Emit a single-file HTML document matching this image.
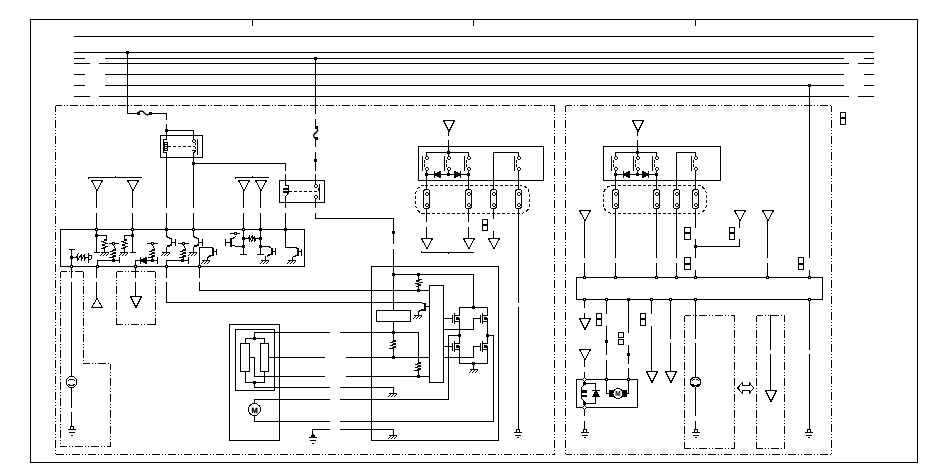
<!DOCTYPE html>
<html><head><meta charset="utf-8"><title>Wiring diagram</title>
<style>
html,body{margin:0;padding:0;background:#fff;}
svg{display:block;}
</style></head>
<body>
<svg width="950" height="475" viewBox="0 0 950 475" shape-rendering="crispEdges" fill="#000" style="will-change:transform">
<rect x="0" y="0" width="950" height="475" fill="#fff"/>
<rect x="30" y="19" width="888" height="1"/>
<rect x="30" y="462" width="888" height="1"/>
<rect x="30" y="19" width="1" height="444"/>
<rect x="917" y="19" width="1" height="444"/>
<rect x="252" y="19" width="1" height="7"/>
<rect x="473" y="19" width="1" height="7"/>
<rect x="695" y="19" width="1" height="7"/>
<rect x="74" y="36" width="800" height="1"/>
<rect x="74" y="52" width="800" height="1"/>
<rect x="74" y="58" width="11" height="1"/>
<rect x="105" y="58" width="739" height="1"/>
<rect x="864" y="58" width="10" height="1"/>
<rect x="74" y="74" width="11" height="1"/>
<rect x="105" y="74" width="739" height="1"/>
<rect x="864" y="74" width="10" height="1"/>
<rect x="74" y="85" width="11" height="1"/>
<rect x="105" y="85" width="739" height="1"/>
<rect x="864" y="85" width="10" height="1"/>
<rect x="74" y="63" width="16" height="1"/>
<rect x="99" y="63" width="750" height="1"/>
<rect x="858" y="63" width="16" height="1"/>
<rect x="74" y="96" width="16" height="1"/>
<rect x="99" y="96" width="750" height="1"/>
<rect x="858" y="96" width="16" height="1"/>
<path d="M55.5 105.5H555" stroke="#000" stroke-width="1" fill="none" stroke-dasharray="8 2 1 2 1 2" stroke-dashoffset="2"/>
<path d="M55.5 454.5H555" stroke="#000" stroke-width="1" fill="none" stroke-dasharray="8 2 1 2 1 2" stroke-dashoffset="0"/>
<path d="M55.5 105.5V455" stroke="#000" stroke-width="1" fill="none" stroke-dasharray="8 2 1 2 1 2" stroke-dashoffset="2"/>
<path d="M554.5 105.5V455" stroke="#000" stroke-width="1" fill="none" stroke-dasharray="8 2 1 2 1 2" stroke-dashoffset="2"/>
<path d="M565.5 105.5H832" stroke="#000" stroke-width="1" fill="none" stroke-dasharray="8 2 1 2 1 2" stroke-dashoffset="2"/>
<path d="M565.5 454.5H832" stroke="#000" stroke-width="1" fill="none" stroke-dasharray="8 2 1 2 1 2" stroke-dashoffset="2"/>
<path d="M565.5 105.5V455" stroke="#000" stroke-width="1" fill="none" stroke-dasharray="8 2 1 2 1 2" stroke-dashoffset="2"/>
<path d="M831.5 105.5V455" stroke="#000" stroke-width="1" fill="none" stroke-dasharray="8 2 1 2 1 2" stroke-dashoffset="2"/>
<path d="M60.5 271.5H84" stroke="#000" stroke-width="1" fill="none" stroke-dasharray="8 2 1 2 1 2" stroke-dashoffset="2"/>
<path d="M83.5 271.5V364" stroke="#000" stroke-width="1" fill="none" stroke-dasharray="8 2 1 2 1 2" stroke-dashoffset="2"/>
<path d="M83.5 363.5H111" stroke="#000" stroke-width="1" fill="none" stroke-dasharray="8 2 1 2 1 2" stroke-dashoffset="2"/>
<path d="M110.5 363.5V447" stroke="#000" stroke-width="1" fill="none" stroke-dasharray="8 2 1 2 1 2" stroke-dashoffset="2"/>
<path d="M60.5 446.5H111" stroke="#000" stroke-width="1" fill="none" stroke-dasharray="8 2 1 2 1 2" stroke-dashoffset="2"/>
<path d="M60.5 271.5V447" stroke="#000" stroke-width="1" fill="none" stroke-dasharray="8 2 1 2 1 2" stroke-dashoffset="2"/>
<path d="M116.5 271.5H156" stroke="#000" stroke-width="1" fill="none" stroke-dasharray="8 2 1 2 1 2" stroke-dashoffset="2"/>
<path d="M116.5 324.5H156" stroke="#000" stroke-width="1" fill="none" stroke-dasharray="8 2 1 2 1 2" stroke-dashoffset="2"/>
<path d="M116.5 271.5V325" stroke="#000" stroke-width="1" fill="none" stroke-dasharray="8 2 1 2 1 2" stroke-dashoffset="2"/>
<path d="M155.5 271.5V325" stroke="#000" stroke-width="1" fill="none" stroke-dasharray="8 2 1 2 1 2" stroke-dashoffset="2"/>
<path d="M684.5 315.5H735" stroke="#000" stroke-width="1" fill="none" stroke-dasharray="8 2 1 2 1 2" stroke-dashoffset="2"/>
<path d="M684.5 448.5H735" stroke="#000" stroke-width="1" fill="none" stroke-dasharray="8 2 1 2 1 2" stroke-dashoffset="2"/>
<path d="M684.5 315.5V449" stroke="#000" stroke-width="1" fill="none" stroke-dasharray="8 2 1 2 1 2" stroke-dashoffset="2"/>
<path d="M734.5 315.5V449" stroke="#000" stroke-width="1" fill="none" stroke-dasharray="8 2 1 2 1 2" stroke-dashoffset="2"/>
<path d="M756.5 315.5H785" stroke="#000" stroke-width="1" fill="none" stroke-dasharray="8 2 1 2 1 2" stroke-dashoffset="2"/>
<path d="M756.5 448.5H785" stroke="#000" stroke-width="1" fill="none" stroke-dasharray="8 2 1 2 1 2" stroke-dashoffset="2"/>
<path d="M756.5 315.5V449" stroke="#000" stroke-width="1" fill="none" stroke-dasharray="8 2 1 2 1 2" stroke-dashoffset="2"/>
<path d="M784.5 315.5V449" stroke="#000" stroke-width="1" fill="none" stroke-dasharray="8 2 1 2 1 2" stroke-dashoffset="2"/>
<rect x="126" y="51" width="3" height="3"/>
<rect x="127" y="52" width="1" height="62"/>
<rect x="127" y="113" width="12" height="1"/>
<rect x="150" y="113" width="17" height="1"/>
<path d="M138 113.5C139.5 110.2 143 110.2 144.5 113.2C146 115.2 148.5 115.2 150 113.5" stroke="#000" stroke-width="1.4" fill="none" shape-rendering="geometricPrecision"/>
<rect x="137" y="112" width="3" height="3"/>
<rect x="149" y="112" width="3" height="3"/>
<rect x="166" y="113" width="1" height="7"/>
<rect x="166" y="124" width="1" height="7"/>
<rect x="165" y="129" width="3" height="3"/>
<rect x="166" y="130" width="28" height="1"/>
<rect x="193" y="130" width="1" height="10"/>
<rect x="160" y="135" width="43" height="1"/>
<rect x="160" y="157" width="43" height="1"/>
<rect x="160" y="135" width="1" height="23"/>
<rect x="202" y="135" width="1" height="23"/>
<rect x="166" y="130" width="1" height="10"/>
<rect x="163" y="139" width="4" height="1"/>
<rect x="163" y="139" width="1" height="14"/>
<rect x="163" y="152" width="4" height="1"/>
<rect x="164" y="142" width="4" height="1"/>
<rect x="164" y="150" width="4" height="1"/>
<rect x="164" y="142" width="1" height="9"/>
<rect x="167" y="142" width="1" height="9"/>
<rect x="164" y="144" width="4" height="1"/>
<rect x="164" y="146" width="4" height="1"/>
<rect x="164" y="148" width="4" height="1"/>
<rect x="166" y="152" width="1" height="56"/>
<rect x="166" y="213" width="1" height="17"/>
<path d="M168 146.5H195" stroke="#000" stroke-width="1" fill="none" stroke-dasharray="3 2"/>
<rect x="197" y="139" width="1" height="16"/>
<rect x="195" y="143" width="1" height="2"/>
<rect x="195" y="147" width="1" height="2"/>
<rect x="192" y="150" width="4" height="1"/>
<line x1="193" y1="153.5" x2="195.5" y2="151" stroke="#000" stroke-width="1"/>
<rect x="193" y="153" width="1" height="55"/>
<rect x="193" y="213" width="1" height="17"/>
<rect x="192" y="162" width="3" height="3"/>
<rect x="193" y="163" width="93" height="1"/>
<rect x="285" y="163" width="1" height="8"/>
<rect x="285" y="174" width="1" height="12"/>
<rect x="314" y="57" width="3" height="3"/>
<rect x="315" y="58" width="1" height="56"/>
<rect x="315" y="119" width="1" height="9"/>
<path d="M316 127C318.5 128.5 318 132 315.5 133C313 134 313 137.5 316 139" stroke="#000" stroke-width="1.4" fill="none" shape-rendering="geometricPrecision"/>
<rect x="315" y="126" width="3" height="3"/>
<rect x="315" y="137" width="3" height="3"/>
<rect x="315" y="139" width="1" height="8"/>
<rect x="315" y="152" width="1" height="19"/>
<rect x="314" y="159" width="3" height="3"/>
<rect x="315" y="174" width="1" height="11"/>
<rect x="279" y="180" width="46" height="1"/>
<rect x="279" y="202" width="46" height="1"/>
<rect x="279" y="180" width="1" height="23"/>
<rect x="324" y="180" width="1" height="23"/>
<rect x="285" y="185" width="4" height="1"/>
<rect x="288" y="185" width="1" height="8"/>
<rect x="283" y="188" width="6" height="2"/>
<rect x="283" y="191" width="6" height="2"/>
<line x1="288.5" y1="193" x2="285.5" y2="197" stroke="#000" stroke-width="1"/>
<rect x="285" y="197" width="1" height="11"/>
<rect x="285" y="213" width="1" height="17"/>
<path d="M289 191.5H318" stroke="#000" stroke-width="1" fill="none" stroke-dasharray="3 2"/>
<rect x="318" y="188" width="1" height="3"/>
<rect x="319" y="184" width="1" height="16"/>
<rect x="315" y="199" width="1" height="9"/>
<rect x="315" y="213" width="1" height="6"/>
<rect x="315" y="218" width="79" height="1"/>
<rect x="393" y="218" width="1" height="26"/>
<rect x="392" y="231" width="3" height="3"/>
<rect x="393" y="249" width="1" height="62"/>
<path d="M91.5 180.5H102.5L97 190.5Z" stroke="#000" stroke-width="1" fill="none" />
<rect x="96" y="190" width="1" height="18"/>
<rect x="96" y="213" width="1" height="17"/>
<path d="M127.5 180.5H138.5L133 190.5Z" stroke="#000" stroke-width="1" fill="none" />
<rect x="132" y="190" width="1" height="18"/>
<rect x="132" y="213" width="1" height="17"/>
<path d="M238.5 180.5H249.5L244 190.5Z" stroke="#000" stroke-width="1" fill="none" />
<rect x="243" y="190" width="1" height="18"/>
<rect x="243" y="213" width="1" height="17"/>
<path d="M255.5 180.5H266.5L261 190.5Z" stroke="#000" stroke-width="1" fill="none" />
<rect x="260" y="190" width="1" height="18"/>
<rect x="260" y="213" width="1" height="17"/>
<rect x="88" y="177" width="54" height="1"/>
<rect x="115" y="176" width="1" height="2"/>
<rect x="88" y="177" width="1" height="2"/>
<rect x="235" y="177" width="34" height="1"/>
<rect x="252" y="176" width="1" height="2"/>
<rect x="235" y="177" width="1" height="2"/>
<rect x="60" y="229" width="245" height="1"/>
<rect x="60" y="266" width="245" height="1"/>
<rect x="60" y="229" width="1" height="38"/>
<rect x="304" y="229" width="1" height="38"/>
<rect x="71" y="249" width="1" height="29"/>
<rect x="69" y="249" width="6" height="1"/>
<rect x="70" y="256" width="3" height="3"/>
<rect x="71" y="257" width="6" height="1"/>
<path d="M76 257.5L78.0 254.5L77.7 260.5L81.3 254.5L81.0 260.5L84.7 254.5L84.3 260.5L86 257.5" stroke="#000" stroke-width="1" fill="none" />
<rect x="86" y="257" width="3" height="1"/>
<rect x="88" y="253" width="1" height="10"/>
<path d="M88.5 255.5H91.5V258.5L88.5 260.5" stroke="#000" stroke-width="1" fill="none" />
<rect x="96" y="229" width="1" height="24"/>
<rect x="95" y="234" width="3" height="3"/>
<rect x="94" y="252" width="6" height="1"/>
<rect x="96" y="235" width="11" height="1"/>
<rect x="106" y="235" width="1" height="5"/>
<path d="M104.5 239L107.0 240.0L102.0 241.7L107.0 243.3L102.0 245.0L107.0 246.7L102.0 248.3L104.5 249" stroke="#000" stroke-width="1" fill="none" />
<rect x="104" y="249" width="1" height="4"/>
<rect x="101" y="252" width="8" height="1"/>
<rect x="102" y="253" width="1" height="1"/>
<rect x="101" y="254" width="1" height="1"/>
<rect x="100" y="255" width="1" height="1"/>
<rect x="105" y="253" width="1" height="1"/>
<rect x="104" y="254" width="1" height="1"/>
<rect x="103" y="255" width="1" height="1"/>
<rect x="108" y="253" width="1" height="1"/>
<rect x="107" y="254" width="1" height="1"/>
<rect x="106" y="255" width="1" height="1"/>
<rect x="109" y="243" width="10" height="1"/>
<path d="M113.5 245C113.5 247 115.5 247 115.5 249" stroke="#000" stroke-width="1" fill="none" />
<path d="M113.5 249L116.0 249.9L111.0 251.4L116.0 252.9L111.0 254.4L116.0 255.9L111.0 257.4L113.5 258" stroke="#000" stroke-width="1" fill="none" />
<rect x="113" y="258" width="1" height="3"/>
<rect x="112" y="259" width="3" height="3"/>
<rect x="97" y="260" width="23" height="1"/>
<rect x="97" y="260" width="1" height="7"/>
<rect x="119" y="257" width="1" height="6"/>
<rect x="132" y="229" width="1" height="24"/>
<rect x="131" y="234" width="3" height="3"/>
<rect x="130" y="252" width="6" height="1"/>
<rect x="124" y="235" width="9" height="1"/>
<rect x="124" y="235" width="1" height="5"/>
<path d="M124.5 239L127.0 240.0L122.0 241.7L127.0 243.3L122.0 245.0L127.0 246.7L122.0 248.3L124.5 249" stroke="#000" stroke-width="1" fill="none" />
<rect x="124" y="249" width="1" height="4"/>
<rect x="120" y="252" width="8" height="1"/>
<rect x="121" y="253" width="1" height="1"/>
<rect x="120" y="254" width="1" height="1"/>
<rect x="119" y="255" width="1" height="1"/>
<rect x="124" y="253" width="1" height="1"/>
<rect x="123" y="254" width="1" height="1"/>
<rect x="122" y="255" width="1" height="1"/>
<rect x="127" y="253" width="1" height="1"/>
<rect x="126" y="254" width="1" height="1"/>
<rect x="125" y="255" width="1" height="1"/>
<rect x="135" y="260" width="1" height="18"/>
<rect x="135" y="260" width="23" height="1"/>
<rect x="140" y="257" width="1" height="7"/>
<rect x="141" y="259" width="1" height="3"/>
<rect x="142" y="259" width="1" height="3"/>
<rect x="143" y="258" width="1" height="5"/>
<rect x="144" y="258" width="1" height="5"/>
<rect x="145" y="257" width="1" height="7"/>
<rect x="146" y="257" width="1" height="7"/>
<rect x="151" y="259" width="3" height="3"/>
<rect x="157" y="257" width="1" height="7"/>
<rect x="147" y="243" width="11" height="1"/>
<path d="M152.5 245C152.5 247 154.5 247 154.5 249" stroke="#000" stroke-width="1" fill="none" />
<path d="M152.5 249L155.0 249.9L150.0 251.4L155.0 252.9L150.0 254.4L155.0 255.9L150.0 257.4L152.5 258" stroke="#000" stroke-width="1" fill="none" />
<rect x="152" y="258" width="1" height="3"/>
<rect x="166" y="229" width="1" height="8"/>
<line x1="166.5" y1="236.5" x2="171.5" y2="239" stroke="#000" stroke-width="1"/>
<rect x="171" y="239" width="1" height="7"/>
<rect x="171" y="239" width="1" height="7"/>
<rect x="171" y="242" width="5" height="1"/>
<rect x="175" y="239" width="1" height="7"/>
<line x1="171.5" y1="245" x2="167" y2="246.5" stroke="#000" stroke-width="1.6"/>
<rect x="166" y="247" width="1" height="6"/>
<rect x="162" y="252" width="8" height="1"/>
<rect x="163" y="253" width="1" height="1"/>
<rect x="162" y="254" width="1" height="1"/>
<rect x="161" y="255" width="1" height="1"/>
<rect x="166" y="253" width="1" height="1"/>
<rect x="165" y="254" width="1" height="1"/>
<rect x="164" y="255" width="1" height="1"/>
<rect x="169" y="253" width="1" height="1"/>
<rect x="168" y="254" width="1" height="1"/>
<rect x="167" y="255" width="1" height="1"/>
<rect x="165" y="228" width="3" height="3"/>
<rect x="193" y="229" width="1" height="8"/>
<line x1="193.5" y1="236.5" x2="198.5" y2="239" stroke="#000" stroke-width="1"/>
<rect x="198" y="239" width="1" height="7"/>
<rect x="198" y="239" width="1" height="7"/>
<rect x="198" y="242" width="5" height="1"/>
<rect x="202" y="239" width="1" height="7"/>
<line x1="198.5" y1="245" x2="194" y2="246.5" stroke="#000" stroke-width="1.6"/>
<rect x="193" y="247" width="1" height="6"/>
<rect x="189" y="252" width="8" height="1"/>
<rect x="190" y="253" width="1" height="1"/>
<rect x="189" y="254" width="1" height="1"/>
<rect x="188" y="255" width="1" height="1"/>
<rect x="193" y="253" width="1" height="1"/>
<rect x="192" y="254" width="1" height="1"/>
<rect x="191" y="255" width="1" height="1"/>
<rect x="196" y="253" width="1" height="1"/>
<rect x="195" y="254" width="1" height="1"/>
<rect x="194" y="255" width="1" height="1"/>
<rect x="178" y="243" width="11" height="1"/>
<path d="M183.5 245C183.5 247 185.5 247 185.5 249" stroke="#000" stroke-width="1" fill="none" />
<path d="M183.5 249L186.0 249.9L181.0 251.4L186.0 252.9L181.0 254.4L186.0 255.9L181.0 257.4L183.5 258" stroke="#000" stroke-width="1" fill="none" />
<rect x="183" y="258" width="1" height="3"/>
<rect x="181" y="259" width="3" height="3"/>
<rect x="166" y="260" width="23" height="1"/>
<rect x="166" y="260" width="1" height="18"/>
<rect x="188" y="257" width="1" height="7"/>
<rect x="199" y="247" width="1" height="31"/>
<rect x="199" y="247" width="14" height="1"/>
<rect x="212" y="247" width="1" height="9"/>
<rect x="213" y="248" width="1" height="8"/>
<rect x="212" y="251" width="5" height="1"/>
<rect x="216" y="249" width="1" height="6"/>
<line x1="212.5" y1="255" x2="208" y2="257" stroke="#000" stroke-width="1.6"/>
<rect x="207" y="257" width="1" height="4"/>
<rect x="202" y="260" width="8" height="1"/>
<rect x="203" y="261" width="1" height="1"/>
<rect x="202" y="262" width="1" height="1"/>
<rect x="201" y="263" width="1" height="1"/>
<rect x="206" y="261" width="1" height="1"/>
<rect x="205" y="262" width="1" height="1"/>
<rect x="204" y="263" width="1" height="1"/>
<rect x="209" y="261" width="1" height="1"/>
<rect x="208" y="262" width="1" height="1"/>
<rect x="207" y="263" width="1" height="1"/>
<rect x="225" y="239" width="1" height="7"/>
<rect x="225" y="242" width="6" height="1"/>
<rect x="230" y="238" width="1" height="9"/>
<rect x="231" y="238" width="1" height="9"/>
<line x1="231" y1="240" x2="236" y2="236" stroke="#000" stroke-width="1"/>
<rect x="230" y="233" width="10" height="1"/>
<line x1="231" y1="244.5" x2="236" y2="246.5" stroke="#000" stroke-width="1"/>
<rect x="236" y="246" width="8" height="1"/>
<rect x="243" y="229" width="1" height="26"/>
<rect x="242" y="237" width="3" height="3"/>
<rect x="242" y="245" width="3" height="3"/>
<rect x="240" y="254" width="7" height="1"/>
<rect x="260" y="229" width="1" height="26"/>
<rect x="259" y="228" width="3" height="3"/>
<rect x="259" y="237" width="3" height="3"/>
<rect x="259" y="245" width="3" height="3"/>
<rect x="257" y="254" width="7" height="1"/>
<rect x="243" y="238" width="6" height="1"/>
<path d="M248 238.5L249.8 235.5L249.1 241.5L252.5 235.5L251.8 241.5L255.1 235.5L254.5 241.5L256 238.5" stroke="#000" stroke-width="1" fill="none" />
<rect x="256" y="238" width="5" height="1"/>
<rect x="260" y="246" width="9" height="1"/>
<line x1="268.5" y1="246.5" x2="272" y2="248.5" stroke="#000" stroke-width="1"/>
<rect x="271" y="248" width="1" height="7"/>
<rect x="272" y="248" width="1" height="7"/>
<rect x="272" y="251" width="4" height="1"/>
<rect x="275" y="248" width="1" height="7"/>
<line x1="271.5" y1="254" x2="267" y2="256" stroke="#000" stroke-width="1.6"/>
<rect x="265" y="256" width="1" height="5"/>
<rect x="261" y="260" width="8" height="1"/>
<rect x="262" y="261" width="1" height="1"/>
<rect x="261" y="262" width="1" height="1"/>
<rect x="260" y="263" width="1" height="1"/>
<rect x="265" y="261" width="1" height="1"/>
<rect x="264" y="262" width="1" height="1"/>
<rect x="263" y="263" width="1" height="1"/>
<rect x="268" y="261" width="1" height="1"/>
<rect x="267" y="262" width="1" height="1"/>
<rect x="266" y="263" width="1" height="1"/>
<rect x="284" y="228" width="3" height="3"/>
<rect x="285" y="229" width="1" height="19"/>
<rect x="285" y="247" width="11" height="1"/>
<line x1="295.5" y1="247.5" x2="298.5" y2="249" stroke="#000" stroke-width="1"/>
<rect x="298" y="248" width="1" height="8"/>
<rect x="297" y="249" width="1" height="7"/>
<rect x="298" y="251" width="4" height="1"/>
<rect x="301" y="249" width="1" height="7"/>
<line x1="297.5" y1="255" x2="293.5" y2="257" stroke="#000" stroke-width="1.6"/>
<rect x="292" y="257" width="1" height="4"/>
<rect x="288" y="260" width="8" height="1"/>
<rect x="289" y="261" width="1" height="1"/>
<rect x="288" y="262" width="1" height="1"/>
<rect x="287" y="263" width="1" height="1"/>
<rect x="292" y="261" width="1" height="1"/>
<rect x="291" y="262" width="1" height="1"/>
<rect x="290" y="263" width="1" height="1"/>
<rect x="295" y="261" width="1" height="1"/>
<rect x="294" y="262" width="1" height="1"/>
<rect x="293" y="263" width="1" height="1"/>
<rect x="71" y="282" width="1" height="95"/>
<circle cx="71.5" cy="382" r="5.5" fill="#fff" stroke="#000"/>
<path d="M68 380.5C70 378.5 73 378.5 75 380.5M68 384C70 386 73 386 75 384" stroke="#000" stroke-width="1" fill="none" />
<rect x="71" y="388" width="1" height="20"/>
<rect x="71" y="412" width="1" height="15"/>
<rect x="70" y="426" width="4" height="1"/>
<rect x="70" y="429" width="4" height="1"/>
<rect x="70" y="426" width="1" height="4"/>
<rect x="73" y="426" width="1" height="4"/>
<rect x="68" y="429" width="8" height="1"/>
<rect x="69" y="432" width="6" height="1"/>
<rect x="71" y="435" width="2" height="1"/>
<rect x="96" y="266" width="1" height="12"/>
<rect x="96" y="282" width="1" height="17"/>
<path d="M97 298.5L102.5 307.5H91.5Z" stroke="#000" stroke-width="1" fill="none" />
<rect x="135" y="282" width="1" height="15"/>
<path d="M130.5 296.5H141.5L136 307.5Z" stroke="#000" stroke-width="1" fill="none" />
<rect x="166" y="282" width="1" height="21"/>
<rect x="166" y="302" width="256" height="1"/>
<rect x="199" y="282" width="1" height="9"/>
<rect x="199" y="290" width="231" height="1"/>
<rect x="229" y="324" width="51" height="1"/>
<rect x="229" y="440" width="51" height="1"/>
<rect x="229" y="324" width="1" height="117"/>
<rect x="279" y="324" width="1" height="117"/>
<rect x="235" y="329" width="40" height="1"/>
<rect x="235" y="390" width="40" height="1"/>
<rect x="235" y="329" width="1" height="62"/>
<rect x="274" y="329" width="1" height="62"/>
<rect x="254" y="332" width="76" height="1"/>
<rect x="340" y="332" width="79" height="1"/>
<rect x="254" y="332" width="1" height="7"/>
<rect x="253" y="337" width="3" height="3"/>
<rect x="245" y="338" width="20" height="1"/>
<rect x="245" y="338" width="1" height="6"/>
<rect x="264" y="338" width="1" height="6"/>
<rect x="240" y="343" width="10" height="1"/>
<rect x="240" y="371" width="10" height="1"/>
<rect x="240" y="343" width="1" height="29"/>
<rect x="249" y="343" width="1" height="29"/>
<rect x="260" y="343" width="9" height="1"/>
<rect x="260" y="371" width="9" height="1"/>
<rect x="260" y="343" width="1" height="29"/>
<rect x="268" y="343" width="1" height="29"/>
<rect x="249" y="357" width="6" height="1"/>
<rect x="254" y="357" width="1" height="20"/>
<rect x="254" y="376" width="71" height="1"/>
<rect x="346" y="376" width="84" height="1"/>
<rect x="268" y="357" width="57" height="1"/>
<rect x="346" y="357" width="84" height="1"/>
<rect x="245" y="371" width="1" height="12"/>
<rect x="264" y="371" width="1" height="12"/>
<rect x="245" y="382" width="20" height="1"/>
<rect x="253" y="381" width="3" height="3"/>
<rect x="254" y="382" width="1" height="6"/>
<rect x="254" y="387" width="76" height="1"/>
<rect x="340" y="387" width="54" height="1"/>
<rect x="393" y="387" width="1" height="7"/>
<rect x="389" y="393" width="8" height="1"/>
<rect x="390" y="394" width="1" height="1"/>
<rect x="389" y="395" width="1" height="1"/>
<rect x="388" y="396" width="1" height="1"/>
<rect x="393" y="394" width="1" height="1"/>
<rect x="392" y="395" width="1" height="1"/>
<rect x="391" y="396" width="1" height="1"/>
<rect x="396" y="394" width="1" height="1"/>
<rect x="395" y="395" width="1" height="1"/>
<rect x="394" y="396" width="1" height="1"/>
<rect x="254" y="399" width="76" height="1"/>
<rect x="340" y="399" width="109" height="1"/>
<circle cx="254.5" cy="409.5" r="6" fill="#fff" stroke="#000"/>
<text x="254.5" y="412.6" font-family="Liberation Sans, sans-serif" font-size="7.5" font-weight="bold" text-anchor="middle" fill="#000" stroke="#000" stroke-width="0.3">M</text>
<rect x="254" y="399" width="1" height="5"/>
<rect x="254" y="416" width="1" height="6"/>
<rect x="254" y="421" width="76" height="1"/>
<rect x="340" y="421" width="154" height="1"/>
<rect x="312" y="429" width="18" height="1"/>
<rect x="340" y="429" width="54" height="1"/>
<rect x="393" y="429" width="1" height="7"/>
<rect x="389" y="435" width="8" height="1"/>
<rect x="390" y="436" width="1" height="1"/>
<rect x="389" y="437" width="1" height="1"/>
<rect x="388" y="438" width="1" height="1"/>
<rect x="393" y="436" width="1" height="1"/>
<rect x="392" y="437" width="1" height="1"/>
<rect x="391" y="438" width="1" height="1"/>
<rect x="396" y="436" width="1" height="1"/>
<rect x="395" y="437" width="1" height="1"/>
<rect x="394" y="438" width="1" height="1"/>
<rect x="312" y="429" width="1" height="9"/>
<rect x="312" y="434" width="2" height="1"/>
<rect x="311" y="435" width="4" height="2"/>
<rect x="309" y="437" width="8" height="1"/>
<rect x="310" y="440" width="6" height="1"/>
<rect x="312" y="443" width="2" height="1"/>
<rect x="371" y="266" width="128" height="1"/>
<rect x="371" y="440" width="128" height="1"/>
<rect x="371" y="266" width="1" height="175"/>
<rect x="498" y="266" width="1" height="175"/>
<rect x="392" y="273" width="3" height="3"/>
<rect x="393" y="274" width="81" height="1"/>
<rect x="473" y="274" width="1" height="34"/>
<rect x="472" y="306" width="3" height="3"/>
<rect x="417" y="273" width="3" height="3"/>
<rect x="418" y="274" width="1" height="6"/>
<path d="M418.5 279L421.0 279.8L416.0 281.1L421.0 282.5L416.0 283.8L421.0 285.1L416.0 286.5L418.5 287" stroke="#000" stroke-width="1" fill="none" />
<rect x="418" y="287" width="1" height="4"/>
<rect x="417" y="289" width="3" height="3"/>
<rect x="376" y="310" width="35" height="1"/>
<rect x="376" y="321" width="35" height="1"/>
<rect x="376" y="310" width="1" height="12"/>
<rect x="410" y="310" width="1" height="12"/>
<rect x="393" y="321" width="1" height="20"/>
<path d="M393.5 340L396.0 340.9L391.0 342.4L396.0 343.9L391.0 345.4L396.0 346.9L391.0 348.4L393.5 349" stroke="#000" stroke-width="1" fill="none" />
<rect x="393" y="349" width="1" height="9"/>
<rect x="392" y="331" width="3" height="3"/>
<rect x="392" y="356" width="3" height="3"/>
<rect x="418" y="332" width="1" height="31"/>
<path d="M418.5 362L421.0 362.9L416.0 364.4L421.0 365.9L416.0 367.4L421.0 368.9L416.0 370.4L418.5 371" stroke="#000" stroke-width="1" fill="none" />
<rect x="418" y="371" width="1" height="6"/>
<rect x="417" y="375" width="3" height="3"/>
<rect x="429" y="285" width="15" height="1"/>
<rect x="429" y="382" width="15" height="1"/>
<rect x="429" y="285" width="1" height="98"/>
<rect x="443" y="285" width="1" height="98"/>
<line x1="421.5" y1="302.5" x2="424" y2="304" stroke="#000" stroke-width="1"/>
<rect x="424" y="303" width="1" height="8"/>
<rect x="425" y="303" width="1" height="8"/>
<rect x="425" y="306" width="5" height="1"/>
<line x1="424.5" y1="309.5" x2="419" y2="311" stroke="#000" stroke-width="1.6"/>
<rect x="418" y="311" width="1" height="5"/>
<rect x="414" y="315" width="8" height="1"/>
<rect x="415" y="316" width="1" height="1"/>
<rect x="414" y="317" width="1" height="1"/>
<rect x="413" y="318" width="1" height="1"/>
<rect x="418" y="316" width="1" height="1"/>
<rect x="417" y="317" width="1" height="1"/>
<rect x="416" y="318" width="1" height="1"/>
<rect x="421" y="316" width="1" height="1"/>
<rect x="420" y="317" width="1" height="1"/>
<rect x="419" y="318" width="1" height="1"/>
<rect x="459" y="307" width="29" height="1"/>
<rect x="459" y="307" width="1" height="9"/>
<rect x="454" y="315" width="6" height="1"/>
<rect x="454" y="313" width="1" height="11"/>
<rect x="452" y="315" width="1" height="8"/>
<rect x="443" y="318" width="10" height="1"/>
<rect x="456" y="317" width="3" height="3"/>
<rect x="454" y="321" width="6" height="1"/>
<rect x="459" y="318" width="1" height="18"/>
<rect x="487" y="307" width="1" height="9"/>
<rect x="482" y="315" width="6" height="1"/>
<rect x="482" y="313" width="1" height="11"/>
<rect x="480" y="315" width="1" height="8"/>
<rect x="473" y="318" width="8" height="1"/>
<rect x="484" y="317" width="3" height="3"/>
<rect x="482" y="321" width="6" height="1"/>
<rect x="487" y="318" width="1" height="18"/>
<rect x="473" y="318" width="1" height="12"/>
<rect x="443" y="329" width="31" height="1"/>
<rect x="458" y="334" width="3" height="3"/>
<rect x="486" y="334" width="3" height="3"/>
<rect x="448" y="335" width="12" height="1"/>
<rect x="448" y="335" width="1" height="65"/>
<rect x="487" y="335" width="7" height="1"/>
<rect x="493" y="335" width="1" height="87"/>
<rect x="459" y="335" width="1" height="9"/>
<rect x="454" y="343" width="6" height="1"/>
<rect x="454" y="341" width="1" height="11"/>
<rect x="452" y="343" width="1" height="8"/>
<rect x="443" y="346" width="10" height="1"/>
<rect x="456" y="345" width="3" height="3"/>
<rect x="454" y="349" width="6" height="1"/>
<rect x="459" y="346" width="1" height="18"/>
<rect x="487" y="335" width="1" height="9"/>
<rect x="482" y="343" width="6" height="1"/>
<rect x="482" y="341" width="1" height="11"/>
<rect x="480" y="343" width="1" height="8"/>
<rect x="473" y="346" width="8" height="1"/>
<rect x="484" y="345" width="3" height="3"/>
<rect x="482" y="349" width="6" height="1"/>
<rect x="487" y="346" width="1" height="18"/>
<rect x="473" y="346" width="1" height="12"/>
<rect x="443" y="357" width="31" height="1"/>
<rect x="459" y="363" width="29" height="1"/>
<rect x="472" y="362" width="3" height="3"/>
<rect x="473" y="363" width="1" height="7"/>
<rect x="470" y="369" width="8" height="1"/>
<rect x="471" y="370" width="1" height="1"/>
<rect x="470" y="371" width="1" height="1"/>
<rect x="469" y="372" width="1" height="1"/>
<rect x="474" y="370" width="1" height="1"/>
<rect x="473" y="371" width="1" height="1"/>
<rect x="472" y="372" width="1" height="1"/>
<rect x="477" y="370" width="1" height="1"/>
<rect x="476" y="371" width="1" height="1"/>
<rect x="475" y="372" width="1" height="1"/>
<rect x="518" y="213" width="1" height="90"/>
<rect x="518" y="307" width="1" height="123"/>
<rect x="516" y="429" width="4" height="1"/>
<rect x="516" y="432" width="4" height="1"/>
<rect x="516" y="429" width="1" height="4"/>
<rect x="519" y="429" width="1" height="4"/>
<rect x="514" y="432" width="8" height="1"/>
<rect x="515" y="435" width="6" height="1"/>
<rect x="517" y="437" width="2" height="1"/>
<path d="M443.5 120.5H454.5L449 131.5Z" stroke="#000" stroke-width="1" fill="none" />
<rect x="448" y="131" width="1" height="5"/>
<rect x="448" y="140" width="1" height="13"/>
<rect x="418" y="146" width="126" height="1"/>
<rect x="418" y="180" width="126" height="1"/>
<rect x="418" y="146" width="1" height="35"/>
<rect x="543" y="146" width="1" height="35"/>
<rect x="426" y="152" width="43" height="1"/>
<rect x="447" y="151" width="3" height="3"/>
<rect x="426" y="152" width="1" height="5"/>
<rect x="422" y="156" width="1" height="15"/>
<rect x="424" y="160" width="1" height="3"/>
<rect x="424" y="164" width="1" height="3"/>
<rect x="426" y="171" width="1" height="4"/>
<rect x="425" y="173" width="3" height="3"/>
<rect x="448" y="152" width="1" height="5"/>
<rect x="444" y="156" width="1" height="15"/>
<rect x="446" y="160" width="1" height="3"/>
<rect x="446" y="164" width="1" height="3"/>
<rect x="448" y="171" width="1" height="4"/>
<rect x="447" y="173" width="3" height="3"/>
<rect x="468" y="152" width="1" height="5"/>
<rect x="464" y="156" width="1" height="15"/>
<rect x="466" y="160" width="1" height="3"/>
<rect x="466" y="164" width="1" height="3"/>
<rect x="468" y="171" width="1" height="4"/>
<rect x="467" y="173" width="3" height="3"/>
<rect x="426" y="174" width="43" height="1"/>
<rect x="434" y="171" width="1" height="7"/>
<rect x="435" y="173" width="1" height="3"/>
<rect x="436" y="173" width="1" height="3"/>
<rect x="437" y="172" width="1" height="5"/>
<rect x="438" y="172" width="1" height="5"/>
<rect x="439" y="171" width="1" height="7"/>
<rect x="440" y="171" width="1" height="7"/>
<rect x="459" y="173" width="1" height="3"/>
<rect x="458" y="173" width="1" height="3"/>
<rect x="457" y="172" width="1" height="5"/>
<rect x="456" y="172" width="1" height="5"/>
<rect x="455" y="171" width="1" height="7"/>
<rect x="454" y="171" width="1" height="7"/>
<rect x="460" y="171" width="1" height="7"/>
<rect x="493" y="152" width="26" height="1"/>
<rect x="493" y="152" width="1" height="34"/>
<rect x="518" y="152" width="1" height="5"/>
<rect x="514" y="156" width="1" height="15"/>
<rect x="516" y="160" width="1" height="3"/>
<rect x="516" y="164" width="1" height="3"/>
<rect x="518" y="171" width="1" height="15"/>
<rect x="426" y="174" width="1" height="16"/>
<rect x="468" y="174" width="1" height="16"/>
<rect x="415.5" y="185.5" width="114" height="28" rx="9" fill="none" stroke="#000" stroke-dasharray="3 2"/>
<rect x="426" y="185" width="1" height="29"/>
<rect x="423.5" y="189.5" width="6" height="19" rx="2.5" fill="#fff" stroke="#000"/>
<rect x="468" y="185" width="1" height="29"/>
<rect x="465.5" y="189.5" width="6" height="19" rx="2.5" fill="#fff" stroke="#000"/>
<rect x="493" y="185" width="1" height="29"/>
<rect x="490.5" y="189.5" width="6" height="19" rx="2.5" fill="#fff" stroke="#000"/>
<rect x="518" y="185" width="1" height="29"/>
<rect x="515.5" y="189.5" width="6" height="19" rx="2.5" fill="#fff" stroke="#000"/>
<rect x="426" y="213" width="1" height="9"/>
<rect x="426" y="227" width="1" height="12"/>
<path d="M421.5 238.5H432.5L427 249.0Z" stroke="#000" stroke-width="1" fill="none" />
<rect x="468" y="213" width="1" height="9"/>
<rect x="468" y="227" width="1" height="12"/>
<path d="M463.5 238.5H474.5L469 249.0Z" stroke="#000" stroke-width="1" fill="none" />
<rect x="493" y="213" width="1" height="6"/>
<rect x="493" y="231" width="1" height="8"/>
<path d="M488.5 238.5H499.5L494 249.0Z" stroke="#000" stroke-width="1" fill="none" />
<rect x="482" y="219" width="6" height="1"/>
<rect x="482" y="224" width="6" height="1"/>
<rect x="482" y="219" width="1" height="6"/>
<rect x="487" y="219" width="1" height="6"/>
<rect x="482" y="225" width="6" height="1"/>
<rect x="482" y="230" width="6" height="1"/>
<rect x="482" y="225" width="1" height="6"/>
<rect x="487" y="225" width="1" height="6"/>
<rect x="421" y="252" width="53" height="1"/>
<rect x="448" y="252" width="1" height="2"/>
<rect x="421" y="251" width="1" height="2"/>
<path d="M632.5 120.5H643.5L638 131.5Z" stroke="#000" stroke-width="1" fill="none" />
<rect x="637" y="131" width="1" height="5"/>
<rect x="637" y="140" width="1" height="13"/>
<rect x="603" y="146" width="118" height="1"/>
<rect x="603" y="180" width="118" height="1"/>
<rect x="603" y="146" width="1" height="35"/>
<rect x="720" y="146" width="1" height="35"/>
<rect x="615" y="152" width="42" height="1"/>
<rect x="636" y="151" width="3" height="3"/>
<rect x="615" y="152" width="1" height="5"/>
<rect x="611" y="156" width="1" height="15"/>
<rect x="613" y="160" width="1" height="3"/>
<rect x="613" y="164" width="1" height="3"/>
<rect x="615" y="171" width="1" height="4"/>
<rect x="614" y="173" width="3" height="3"/>
<rect x="637" y="152" width="1" height="5"/>
<rect x="633" y="156" width="1" height="15"/>
<rect x="635" y="160" width="1" height="3"/>
<rect x="635" y="164" width="1" height="3"/>
<rect x="637" y="171" width="1" height="4"/>
<rect x="636" y="173" width="3" height="3"/>
<rect x="656" y="152" width="1" height="5"/>
<rect x="652" y="156" width="1" height="15"/>
<rect x="654" y="160" width="1" height="3"/>
<rect x="654" y="164" width="1" height="3"/>
<rect x="656" y="171" width="1" height="4"/>
<rect x="655" y="173" width="3" height="3"/>
<rect x="615" y="174" width="42" height="1"/>
<rect x="623" y="171" width="1" height="7"/>
<rect x="624" y="173" width="1" height="3"/>
<rect x="625" y="173" width="1" height="3"/>
<rect x="626" y="172" width="1" height="5"/>
<rect x="627" y="172" width="1" height="5"/>
<rect x="628" y="171" width="1" height="7"/>
<rect x="629" y="171" width="1" height="7"/>
<rect x="647" y="173" width="1" height="3"/>
<rect x="646" y="173" width="1" height="3"/>
<rect x="645" y="172" width="1" height="5"/>
<rect x="644" y="172" width="1" height="5"/>
<rect x="643" y="171" width="1" height="7"/>
<rect x="642" y="171" width="1" height="7"/>
<rect x="648" y="171" width="1" height="7"/>
<rect x="676" y="152" width="20" height="1"/>
<rect x="676" y="152" width="1" height="34"/>
<rect x="695" y="152" width="1" height="5"/>
<rect x="691" y="156" width="1" height="15"/>
<rect x="693" y="160" width="1" height="3"/>
<rect x="693" y="164" width="1" height="3"/>
<rect x="695" y="171" width="1" height="15"/>
<rect x="615" y="174" width="1" height="16"/>
<rect x="656" y="174" width="1" height="16"/>
<rect x="603.5" y="185.5" width="103" height="28" rx="9" fill="none" stroke="#000" stroke-dasharray="3 2"/>
<rect x="615" y="185" width="1" height="29"/>
<rect x="612.5" y="189.5" width="6" height="19" rx="2.5" fill="#fff" stroke="#000"/>
<rect x="656" y="185" width="1" height="29"/>
<rect x="653.5" y="189.5" width="6" height="19" rx="2.5" fill="#fff" stroke="#000"/>
<rect x="676" y="185" width="1" height="29"/>
<rect x="673.5" y="189.5" width="6" height="19" rx="2.5" fill="#fff" stroke="#000"/>
<rect x="695" y="185" width="1" height="29"/>
<rect x="692.5" y="189.5" width="6" height="19" rx="2.5" fill="#fff" stroke="#000"/>
<rect x="615" y="213" width="1" height="45"/>
<rect x="615" y="263" width="1" height="15"/>
<rect x="656" y="213" width="1" height="45"/>
<rect x="656" y="263" width="1" height="15"/>
<rect x="676" y="213" width="1" height="45"/>
<rect x="676" y="263" width="1" height="15"/>
<rect x="695" y="213" width="1" height="15"/>
<rect x="695" y="239" width="1" height="19"/>
<rect x="695" y="270" width="1" height="8"/>
<rect x="694" y="245" width="3" height="3"/>
<rect x="695" y="246" width="45" height="1"/>
<rect x="739" y="239" width="1" height="8"/>
<rect x="739" y="221" width="1" height="7"/>
<path d="M734.5 210.5H745.5L740 221.0Z" stroke="#000" stroke-width="1" fill="none" />
<rect x="684" y="227" width="7" height="1"/>
<rect x="684" y="232" width="7" height="1"/>
<rect x="684" y="227" width="1" height="6"/>
<rect x="690" y="227" width="1" height="6"/>
<rect x="684" y="233" width="7" height="1"/>
<rect x="684" y="239" width="7" height="1"/>
<rect x="684" y="233" width="1" height="7"/>
<rect x="690" y="233" width="1" height="7"/>
<rect x="684" y="257" width="7" height="1"/>
<rect x="684" y="263" width="7" height="1"/>
<rect x="684" y="257" width="1" height="7"/>
<rect x="690" y="257" width="1" height="7"/>
<rect x="684" y="264" width="7" height="1"/>
<rect x="684" y="269" width="7" height="1"/>
<rect x="684" y="264" width="1" height="6"/>
<rect x="690" y="264" width="1" height="6"/>
<rect x="729" y="227" width="6" height="1"/>
<rect x="729" y="232" width="6" height="1"/>
<rect x="729" y="227" width="1" height="6"/>
<rect x="734" y="227" width="1" height="6"/>
<rect x="729" y="233" width="6" height="1"/>
<rect x="729" y="239" width="6" height="1"/>
<rect x="729" y="233" width="1" height="7"/>
<rect x="734" y="233" width="1" height="7"/>
<rect x="798" y="257" width="6" height="1"/>
<rect x="798" y="263" width="6" height="1"/>
<rect x="798" y="257" width="1" height="7"/>
<rect x="803" y="257" width="1" height="7"/>
<rect x="798" y="264" width="6" height="1"/>
<rect x="798" y="269" width="6" height="1"/>
<rect x="798" y="264" width="1" height="6"/>
<rect x="803" y="264" width="1" height="6"/>
<rect x="840" y="112" width="6" height="1"/>
<rect x="840" y="117" width="6" height="1"/>
<rect x="840" y="112" width="1" height="6"/>
<rect x="845" y="112" width="1" height="6"/>
<rect x="840" y="118" width="6" height="1"/>
<rect x="840" y="124" width="6" height="1"/>
<rect x="840" y="118" width="1" height="7"/>
<rect x="845" y="118" width="1" height="7"/>
<path d="M579.5 210.5H590.5L585 221.0Z" stroke="#000" stroke-width="1" fill="none" />
<rect x="584" y="221" width="1" height="37"/>
<rect x="584" y="263" width="1" height="15"/>
<path d="M762.5 210.5H773.5L768 221.0Z" stroke="#000" stroke-width="1" fill="none" />
<rect x="767" y="221" width="1" height="37"/>
<rect x="767" y="263" width="1" height="15"/>
<rect x="808" y="84" width="3" height="3"/>
<rect x="809" y="85" width="1" height="173"/>
<rect x="809" y="270" width="1" height="8"/>
<rect x="576" y="277" width="247" height="1"/>
<rect x="576" y="299" width="247" height="1"/>
<rect x="576" y="277" width="1" height="23"/>
<rect x="822" y="277" width="1" height="23"/>
<rect x="627" y="298" width="3" height="3"/>
<rect x="584" y="299" width="1" height="9"/>
<rect x="584" y="313" width="1" height="6"/>
<path d="M579.5 318.5H590.5L585 329.5Z" stroke="#000" stroke-width="1" fill="none" />
<rect x="606" y="299" width="1" height="15"/>
<rect x="606" y="326" width="1" height="29"/>
<rect x="606" y="360" width="1" height="20"/>
<rect x="605" y="340" width="3" height="3"/>
<rect x="596" y="313" width="6" height="1"/>
<rect x="596" y="318" width="6" height="1"/>
<rect x="596" y="313" width="1" height="6"/>
<rect x="601" y="313" width="1" height="6"/>
<rect x="596" y="319" width="6" height="1"/>
<rect x="596" y="325" width="6" height="1"/>
<rect x="596" y="319" width="1" height="7"/>
<rect x="601" y="319" width="1" height="7"/>
<rect x="628" y="299" width="1" height="34"/>
<rect x="628" y="345" width="1" height="19"/>
<rect x="628" y="368" width="1" height="12"/>
<rect x="627" y="353" width="3" height="3"/>
<rect x="618" y="332" width="6" height="1"/>
<rect x="618" y="337" width="6" height="1"/>
<rect x="618" y="332" width="1" height="6"/>
<rect x="623" y="332" width="1" height="6"/>
<rect x="618" y="339" width="6" height="1"/>
<rect x="618" y="344" width="6" height="1"/>
<rect x="618" y="339" width="1" height="6"/>
<rect x="623" y="339" width="1" height="6"/>
<rect x="651" y="299" width="1" height="15"/>
<rect x="651" y="326" width="1" height="46"/>
<path d="M646.5 371.5H657.5L652 382.5Z" stroke="#000" stroke-width="1" fill="none" />
<rect x="640" y="313" width="6" height="1"/>
<rect x="640" y="318" width="6" height="1"/>
<rect x="640" y="313" width="1" height="6"/>
<rect x="645" y="313" width="1" height="6"/>
<rect x="640" y="319" width="6" height="1"/>
<rect x="640" y="325" width="6" height="1"/>
<rect x="640" y="319" width="1" height="7"/>
<rect x="645" y="319" width="1" height="7"/>
<rect x="670" y="299" width="1" height="40"/>
<rect x="670" y="343" width="1" height="29"/>
<path d="M665.5 371.5H676.5L671 382.5Z" stroke="#000" stroke-width="1" fill="none" />
<rect x="695" y="299" width="1" height="40"/>
<rect x="695" y="343" width="1" height="34"/>
<ellipse cx="695.5" cy="382" rx="5.3" ry="5" fill="#fff" stroke="#000"/>
<path d="M692 380.5C694 378.5 697 378.5 699 380.5M692 384C694 386 697 386 699 384" stroke="#000" stroke-width="1" fill="none" />
<rect x="695" y="387" width="1" height="29"/>
<rect x="695" y="421" width="1" height="9"/>
<rect x="694" y="429" width="4" height="1"/>
<rect x="694" y="432" width="4" height="1"/>
<rect x="694" y="429" width="1" height="4"/>
<rect x="697" y="429" width="1" height="4"/>
<rect x="692" y="432" width="8" height="1"/>
<rect x="693" y="435" width="6" height="1"/>
<rect x="695" y="437" width="2" height="1"/>
<rect x="809" y="299" width="1" height="51"/>
<rect x="809" y="354" width="1" height="76"/>
<rect x="807" y="429" width="4" height="1"/>
<rect x="807" y="432" width="4" height="1"/>
<rect x="807" y="429" width="1" height="4"/>
<rect x="810" y="429" width="1" height="4"/>
<rect x="805" y="432" width="8" height="1"/>
<rect x="806" y="435" width="6" height="1"/>
<rect x="808" y="437" width="2" height="1"/>
<rect x="770" y="315" width="1" height="35"/>
<rect x="770" y="354" width="1" height="37"/>
<path d="M765.5 390.5H776.5L771 401.5Z" stroke="#000" stroke-width="1" fill="none" />
<path d="M737.5 388L742.5 382.5V385.5H749V382.5L754 388L749 393.5V390.5H742.5V393.5Z" stroke="#000" stroke-width="1" fill="none" />
<path d="M579.5 349.5H590.5L585 359.5Z" stroke="#000" stroke-width="1" fill="none" />
<rect x="584" y="359" width="1" height="8"/>
<rect x="584" y="372" width="1" height="8"/>
<rect x="576" y="379" width="62" height="1"/>
<rect x="576" y="407" width="62" height="1"/>
<rect x="576" y="379" width="1" height="29"/>
<rect x="637" y="379" width="1" height="29"/>
<rect x="584" y="379" width="1" height="5"/>
<rect x="583" y="382" width="3" height="3"/>
<line x1="584.5" y1="384" x2="581.5" y2="388" stroke="#000" stroke-width="1"/>
<rect x="581" y="388" width="1" height="11"/>
<rect x="581" y="390" width="6" height="3"/>
<rect x="581" y="395" width="6" height="2"/>
<line x1="581.5" y1="398.5" x2="584.5" y2="402" stroke="#000" stroke-width="1"/>
<rect x="583" y="402" width="3" height="3"/>
<rect x="584" y="403" width="1" height="13"/>
<rect x="584" y="421" width="1" height="9"/>
<rect x="583" y="429" width="4" height="1"/>
<rect x="583" y="432" width="4" height="1"/>
<rect x="583" y="429" width="1" height="4"/>
<rect x="586" y="429" width="1" height="4"/>
<rect x="581" y="432" width="8" height="1"/>
<rect x="582" y="435" width="6" height="1"/>
<rect x="584" y="437" width="2" height="1"/>
<rect x="584" y="383" width="12" height="1"/>
<rect x="595" y="383" width="1" height="21"/>
<rect x="584" y="403" width="12" height="1"/>
<rect x="592" y="390" width="8" height="1"/>
<rect x="595" y="391" width="2" height="1"/>
<rect x="594" y="392" width="4" height="1"/>
<rect x="594" y="393" width="4" height="1"/>
<rect x="593" y="394" width="6" height="1"/>
<rect x="593" y="395" width="6" height="1"/>
<rect x="592" y="396" width="8" height="1"/>
<rect x="606" y="379" width="1" height="15"/>
<rect x="628" y="379" width="1" height="15"/>
<rect x="606" y="393" width="23" height="1"/>
<rect x="609" y="390" width="18" height="7"/>
<circle cx="618" cy="393.5" r="5" fill="#fff" stroke="#000"/>
<text x="618" y="396" font-family="Liberation Sans, sans-serif" font-size="6.5" font-weight="bold" text-anchor="middle" fill="#000" stroke="none">M</text>
<rect x="192" y="139" width="4" height="4" fill="#fff"/>
<rect x="193" y="139" width="2" height="1"/>
<rect x="193" y="142" width="2" height="1"/>
<rect x="192" y="140" width="1" height="2"/>
<rect x="195" y="140" width="1" height="2"/>
<rect x="314" y="184" width="4" height="4" fill="#fff"/>
<rect x="315" y="184" width="2" height="1"/>
<rect x="315" y="187" width="2" height="1"/>
<rect x="314" y="185" width="1" height="2"/>
<rect x="317" y="185" width="1" height="2"/>
<rect x="314" y="195" width="4" height="4" fill="#fff"/>
<rect x="315" y="195" width="2" height="1"/>
<rect x="315" y="198" width="2" height="1"/>
<rect x="314" y="196" width="1" height="2"/>
<rect x="317" y="196" width="1" height="2"/>
<rect x="112" y="242" width="3" height="3"/>
<rect x="113" y="243" width="1" height="1" fill="#fff"/>
<rect x="151" y="242" width="3" height="3"/>
<rect x="152" y="243" width="1" height="1" fill="#fff"/>
<rect x="182" y="242" width="3" height="3"/>
<rect x="183" y="243" width="1" height="1" fill="#fff"/>
<rect x="234" y="232" width="3" height="3"/>
<rect x="235" y="233" width="1" height="1" fill="#fff"/>
<rect x="95" y="228" width="3" height="3"/>
<rect x="96" y="229" width="1" height="1" fill="#fff"/>
<rect x="131" y="228" width="3" height="3"/>
<rect x="132" y="229" width="1" height="1" fill="#fff"/>
<rect x="192" y="228" width="3" height="3"/>
<rect x="193" y="229" width="1" height="1" fill="#fff"/>
<rect x="242" y="228" width="3" height="3"/>
<rect x="243" y="229" width="1" height="1" fill="#fff"/>
<rect x="70" y="265" width="3" height="3"/>
<rect x="71" y="266" width="1" height="1" fill="#fff"/>
<rect x="96" y="265" width="3" height="3"/>
<rect x="97" y="266" width="1" height="1" fill="#fff"/>
<rect x="134" y="265" width="3" height="3"/>
<rect x="135" y="266" width="1" height="1" fill="#fff"/>
<rect x="165" y="265" width="3" height="3"/>
<rect x="166" y="266" width="1" height="1" fill="#fff"/>
<rect x="198" y="265" width="3" height="3"/>
<rect x="199" y="266" width="1" height="1" fill="#fff"/>
<rect x="425" y="156" width="4" height="4" fill="#fff"/>
<rect x="426" y="156" width="2" height="1"/>
<rect x="426" y="159" width="2" height="1"/>
<rect x="425" y="157" width="1" height="2"/>
<rect x="428" y="157" width="1" height="2"/>
<rect x="425" y="167" width="4" height="4" fill="#fff"/>
<rect x="426" y="167" width="2" height="1"/>
<rect x="426" y="170" width="2" height="1"/>
<rect x="425" y="168" width="1" height="2"/>
<rect x="428" y="168" width="1" height="2"/>
<rect x="447" y="156" width="4" height="4" fill="#fff"/>
<rect x="448" y="156" width="2" height="1"/>
<rect x="448" y="159" width="2" height="1"/>
<rect x="447" y="157" width="1" height="2"/>
<rect x="450" y="157" width="1" height="2"/>
<rect x="447" y="167" width="4" height="4" fill="#fff"/>
<rect x="448" y="167" width="2" height="1"/>
<rect x="448" y="170" width="2" height="1"/>
<rect x="447" y="168" width="1" height="2"/>
<rect x="450" y="168" width="1" height="2"/>
<rect x="467" y="156" width="4" height="4" fill="#fff"/>
<rect x="468" y="156" width="2" height="1"/>
<rect x="468" y="159" width="2" height="1"/>
<rect x="467" y="157" width="1" height="2"/>
<rect x="470" y="157" width="1" height="2"/>
<rect x="467" y="167" width="4" height="4" fill="#fff"/>
<rect x="468" y="167" width="2" height="1"/>
<rect x="468" y="170" width="2" height="1"/>
<rect x="467" y="168" width="1" height="2"/>
<rect x="470" y="168" width="1" height="2"/>
<rect x="517" y="156" width="4" height="4" fill="#fff"/>
<rect x="518" y="156" width="2" height="1"/>
<rect x="518" y="159" width="2" height="1"/>
<rect x="517" y="157" width="1" height="2"/>
<rect x="520" y="157" width="1" height="2"/>
<rect x="517" y="167" width="4" height="4" fill="#fff"/>
<rect x="518" y="167" width="2" height="1"/>
<rect x="518" y="170" width="2" height="1"/>
<rect x="517" y="168" width="1" height="2"/>
<rect x="520" y="168" width="1" height="2"/>
<rect x="425" y="192" width="4" height="4" fill="#fff"/>
<rect x="426" y="192" width="2" height="1"/>
<rect x="426" y="195" width="2" height="1"/>
<rect x="425" y="193" width="1" height="2"/>
<rect x="428" y="193" width="1" height="2"/>
<rect x="425" y="203" width="4" height="4" fill="#fff"/>
<rect x="426" y="203" width="2" height="1"/>
<rect x="426" y="206" width="2" height="1"/>
<rect x="425" y="204" width="1" height="2"/>
<rect x="428" y="204" width="1" height="2"/>
<rect x="467" y="192" width="4" height="4" fill="#fff"/>
<rect x="468" y="192" width="2" height="1"/>
<rect x="468" y="195" width="2" height="1"/>
<rect x="467" y="193" width="1" height="2"/>
<rect x="470" y="193" width="1" height="2"/>
<rect x="467" y="203" width="4" height="4" fill="#fff"/>
<rect x="468" y="203" width="2" height="1"/>
<rect x="468" y="206" width="2" height="1"/>
<rect x="467" y="204" width="1" height="2"/>
<rect x="470" y="204" width="1" height="2"/>
<rect x="492" y="192" width="4" height="4" fill="#fff"/>
<rect x="493" y="192" width="2" height="1"/>
<rect x="493" y="195" width="2" height="1"/>
<rect x="492" y="193" width="1" height="2"/>
<rect x="495" y="193" width="1" height="2"/>
<rect x="492" y="203" width="4" height="4" fill="#fff"/>
<rect x="493" y="203" width="2" height="1"/>
<rect x="493" y="206" width="2" height="1"/>
<rect x="492" y="204" width="1" height="2"/>
<rect x="495" y="204" width="1" height="2"/>
<rect x="517" y="192" width="4" height="4" fill="#fff"/>
<rect x="518" y="192" width="2" height="1"/>
<rect x="518" y="195" width="2" height="1"/>
<rect x="517" y="193" width="1" height="2"/>
<rect x="520" y="193" width="1" height="2"/>
<rect x="517" y="203" width="4" height="4" fill="#fff"/>
<rect x="518" y="203" width="2" height="1"/>
<rect x="518" y="206" width="2" height="1"/>
<rect x="517" y="204" width="1" height="2"/>
<rect x="520" y="204" width="1" height="2"/>
<rect x="614" y="156" width="4" height="4" fill="#fff"/>
<rect x="615" y="156" width="2" height="1"/>
<rect x="615" y="159" width="2" height="1"/>
<rect x="614" y="157" width="1" height="2"/>
<rect x="617" y="157" width="1" height="2"/>
<rect x="614" y="167" width="4" height="4" fill="#fff"/>
<rect x="615" y="167" width="2" height="1"/>
<rect x="615" y="170" width="2" height="1"/>
<rect x="614" y="168" width="1" height="2"/>
<rect x="617" y="168" width="1" height="2"/>
<rect x="636" y="156" width="4" height="4" fill="#fff"/>
<rect x="637" y="156" width="2" height="1"/>
<rect x="637" y="159" width="2" height="1"/>
<rect x="636" y="157" width="1" height="2"/>
<rect x="639" y="157" width="1" height="2"/>
<rect x="636" y="167" width="4" height="4" fill="#fff"/>
<rect x="637" y="167" width="2" height="1"/>
<rect x="637" y="170" width="2" height="1"/>
<rect x="636" y="168" width="1" height="2"/>
<rect x="639" y="168" width="1" height="2"/>
<rect x="655" y="156" width="4" height="4" fill="#fff"/>
<rect x="656" y="156" width="2" height="1"/>
<rect x="656" y="159" width="2" height="1"/>
<rect x="655" y="157" width="1" height="2"/>
<rect x="658" y="157" width="1" height="2"/>
<rect x="655" y="167" width="4" height="4" fill="#fff"/>
<rect x="656" y="167" width="2" height="1"/>
<rect x="656" y="170" width="2" height="1"/>
<rect x="655" y="168" width="1" height="2"/>
<rect x="658" y="168" width="1" height="2"/>
<rect x="694" y="156" width="4" height="4" fill="#fff"/>
<rect x="695" y="156" width="2" height="1"/>
<rect x="695" y="159" width="2" height="1"/>
<rect x="694" y="157" width="1" height="2"/>
<rect x="697" y="157" width="1" height="2"/>
<rect x="694" y="167" width="4" height="4" fill="#fff"/>
<rect x="695" y="167" width="2" height="1"/>
<rect x="695" y="170" width="2" height="1"/>
<rect x="694" y="168" width="1" height="2"/>
<rect x="697" y="168" width="1" height="2"/>
<rect x="614" y="192" width="4" height="4" fill="#fff"/>
<rect x="615" y="192" width="2" height="1"/>
<rect x="615" y="195" width="2" height="1"/>
<rect x="614" y="193" width="1" height="2"/>
<rect x="617" y="193" width="1" height="2"/>
<rect x="614" y="203" width="4" height="4" fill="#fff"/>
<rect x="615" y="203" width="2" height="1"/>
<rect x="615" y="206" width="2" height="1"/>
<rect x="614" y="204" width="1" height="2"/>
<rect x="617" y="204" width="1" height="2"/>
<rect x="655" y="192" width="4" height="4" fill="#fff"/>
<rect x="656" y="192" width="2" height="1"/>
<rect x="656" y="195" width="2" height="1"/>
<rect x="655" y="193" width="1" height="2"/>
<rect x="658" y="193" width="1" height="2"/>
<rect x="655" y="203" width="4" height="4" fill="#fff"/>
<rect x="656" y="203" width="2" height="1"/>
<rect x="656" y="206" width="2" height="1"/>
<rect x="655" y="204" width="1" height="2"/>
<rect x="658" y="204" width="1" height="2"/>
<rect x="675" y="192" width="4" height="4" fill="#fff"/>
<rect x="676" y="192" width="2" height="1"/>
<rect x="676" y="195" width="2" height="1"/>
<rect x="675" y="193" width="1" height="2"/>
<rect x="678" y="193" width="1" height="2"/>
<rect x="675" y="203" width="4" height="4" fill="#fff"/>
<rect x="676" y="203" width="2" height="1"/>
<rect x="676" y="206" width="2" height="1"/>
<rect x="675" y="204" width="1" height="2"/>
<rect x="678" y="204" width="1" height="2"/>
<rect x="694" y="192" width="4" height="4" fill="#fff"/>
<rect x="695" y="192" width="2" height="1"/>
<rect x="695" y="195" width="2" height="1"/>
<rect x="694" y="193" width="1" height="2"/>
<rect x="697" y="193" width="1" height="2"/>
<rect x="694" y="203" width="4" height="4" fill="#fff"/>
<rect x="695" y="203" width="2" height="1"/>
<rect x="695" y="206" width="2" height="1"/>
<rect x="694" y="204" width="1" height="2"/>
<rect x="697" y="204" width="1" height="2"/>
<rect x="583" y="276" width="3" height="3"/>
<rect x="584" y="277" width="1" height="1" fill="#fff"/>
<rect x="614" y="276" width="3" height="3"/>
<rect x="615" y="277" width="1" height="1" fill="#fff"/>
<rect x="655" y="276" width="3" height="3"/>
<rect x="656" y="277" width="1" height="1" fill="#fff"/>
<rect x="675" y="276" width="3" height="3"/>
<rect x="676" y="277" width="1" height="1" fill="#fff"/>
<rect x="694" y="276" width="3" height="3"/>
<rect x="695" y="277" width="1" height="1" fill="#fff"/>
<rect x="766" y="276" width="3" height="3"/>
<rect x="767" y="277" width="1" height="1" fill="#fff"/>
<rect x="808" y="276" width="3" height="3"/>
<rect x="809" y="277" width="1" height="1" fill="#fff"/>
<rect x="583" y="298" width="3" height="3"/>
<rect x="584" y="299" width="1" height="1" fill="#fff"/>
<rect x="605" y="298" width="3" height="3"/>
<rect x="606" y="299" width="1" height="1" fill="#fff"/>
<rect x="650" y="298" width="3" height="3"/>
<rect x="651" y="299" width="1" height="1" fill="#fff"/>
<rect x="669" y="298" width="3" height="3"/>
<rect x="670" y="299" width="1" height="1" fill="#fff"/>
<rect x="694" y="298" width="3" height="3"/>
<rect x="695" y="299" width="1" height="1" fill="#fff"/>
<rect x="808" y="298" width="3" height="3"/>
<rect x="809" y="299" width="1" height="1" fill="#fff"/>
<path d="M584.5 377.5L586.5 379.5L584.5 381.5L582.5 379.5Z" fill="#fff" stroke="#000" stroke-width="1" shape-rendering="crispEdges"/>
<path d="M584.5 405.5L586.5 407.5L584.5 409.5L582.5 407.5Z" fill="#fff" stroke="#000" stroke-width="1" shape-rendering="crispEdges"/>
<rect x="605" y="378" width="3" height="3"/>
<rect x="606" y="379" width="1" height="1" fill="#fff"/>
<rect x="627" y="378" width="3" height="3"/>
<rect x="628" y="379" width="1" height="1" fill="#fff"/>
</svg>
</body></html>
